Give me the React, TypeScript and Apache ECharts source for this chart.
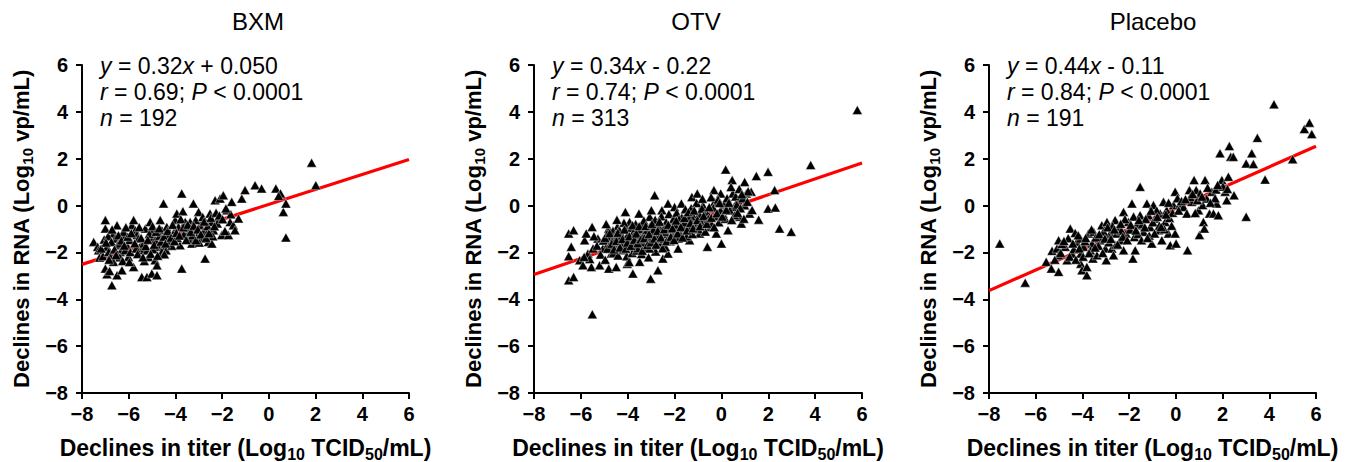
import React, { useEffect, useRef } from "react";
import * as echarts from "echarts";

const FONT = "'Liberation Sans', Arial, Helvetica, sans-serif";

const panelTitles = ["BXM", "OTV", "Placebo"];
const equationLines = [
  "{i|y} = 0.32{i|x} + 0.050",
  "{i|y} = 0.34{i|x} - 0.22",
  "{i|y} = 0.44{i|x} - 0.11",
];
const statLines = [
  "{i|r} = 0.69; {i|P} < 0.0001",
  "{i|r} = 0.74; {i|P} < 0.0001",
  "{i|r} = 0.84; {i|P} < 0.0001",
];
const countLines = ["{i|n} = 192", "{i|n} = 313", "{i|n} = 191"];

const xAxisTitle = "Declines in titer (Log{sub|10} TCID{sub|50}/mL)";
const yAxisTitle = "Declines in RNA (Log{sub|10} vp/mL)";

const axisMin = -8;
const axisMax = 6;
const axisStep = 2;

// regression line end points (x = -8 and x = 6)
const bxmFit = [[-8, -2.51], [6, 1.97]];
const otvFit = [[-8, -2.94], [6, 1.82]];
const placeboFit = [[-8, -3.63], [6, 2.53]];

const bxmPoints = [
  [-7.5, -1.55], [-7.33, -1.76], [-7.29, -1.91], [-7.25, -2.22], [-7.1, -2.16], [-7.0, -0.62], [-7.0, -0.98],
  [-7.05, -1.45], [-6.93, -1.76], [-6.86, -1.98], [-6.79, -2.19], [-7.0, -2.69], [-6.93, -2.93], [-6.82, -2.79],
  [-6.72, -3.4], [-6.65, -1.19], [-6.58, -1.41], [-6.5, -0.84], [-6.48, -1.69], [-6.42, -1.62], [-6.36, -1.98],
  [-6.65, -2.4], [-6.5, -2.97], [-6.29, -2.76], [-6.22, -1.34], [-6.22, -1.12], [-6.08, -1.69], [-6.15, -1.91],
  [-6.01, -2.19], [-5.93, -1.98], [-5.86, -0.84], [-5.79, -0.62], [-5.72, -1.05], [-5.65, -1.26], [-5.79, -2.62],
  [-5.58, -1.41], [-5.51, -1.76], [-5.44, -1.91], [-5.36, -1.62], [-5.29, -0.98], [-5.44, -3.05], [-5.22, -3.05],
  [-5.22, -1.91], [-5.15, -2.19], [-5.08, -0.7], [-5.01, -1.05], [-4.94, -1.34], [-4.87, -1.48], [-5.01, -2.9],
  [-4.79, -2.97], [-4.87, -2.33], [-4.79, -2.55], [-4.72, -1.76], [-4.65, -0.62], [-4.58, -1.05], [-4.51, 0.09],
  [-4.51, -1.76], [-4.58, -1.98], [-4.37, -0.91], [-4.3, -1.26], [-4.23, -1.55], [-4.4, -1.91], [-4.08, -1.26],
  [-4.01, -0.62], [-3.94, -0.34], [-4.01, -1.05], [-3.87, -0.91], [-3.8, -1.69], [-3.73, 0.52], [-3.68, -0.24],
  [-3.73, -2.69], [-3.58, -0.7], [-3.51, -1.05], [-3.44, -1.19], [-3.37, -0.7], [-3.3, -1.62], [-3.37, -1.41],
  [-3.23, 0.09], [-3.16, -1.05], [-3.09, -1.34], [-3.01, -0.27], [-2.94, -0.84], [-2.87, -1.41], [-2.8, -1.12],
  [-2.73, -2.26], [-2.66, -1.19], [-2.59, -1.55], [-2.52, -0.34], [-2.44, -0.7], [-2.37, -1.05], [-2.44, -1.62],
  [-2.3, 0.23], [-2.16, -0.55], [-2.09, 0.3], [-2.02, -1.26], [-1.95, 0.44], [-1.8, -0.2], [-1.73, -1.26],
  [-1.66, -0.7], [-1.59, 0.16], [-1.52, -0.84], [-1.45, -1.05], [-1.3, -0.55], [-1.16, 0.3], [-1.02, 0.66],
  [-0.59, 0.87], [-0.31, 0.73], [0.3, 0.73], [0.5, 0.52], [0.62, -0.27], [0.73, 0.09], [0.73, -1.36],
  [1.83, 1.83], [2.01, 0.87], [-6.88, -1.31], [-6.74, -1.55], [-6.38, -2.21], [-6.12, -0.93], [-5.96, -1.47],
  [-5.68, -1.83], [-5.33, -2.37], [-5.12, -1.21], [-4.96, -1.86], [-4.68, -1.29], [-4.47, -2.08], [-4.16, -1.71],
  [-3.92, -1.38], [-3.64, -1.23], [-3.41, -0.94], [-3.27, -1.27], [-3.13, -0.62], [-2.98, -1.58], [-2.83, -0.49],
  [-2.62, -0.88], [-2.4, -1.31], [-2.21, -0.76], [-1.88, -1.09], [-1.63, -0.37], [0.42, 0.41],
  [-7.18, -1.83], [-6.97, -1.58], [-6.84, -2.31], [-6.71, -1.02], [-6.61, -1.87], [-6.54, -2.12], [-6.44, -1.27],
  [-6.31, -1.49], [-6.26, -2.37], [-6.19, -1.71], [-6.04, -1.33], [-5.97, -2.41], [-5.89, -1.18], [-5.74, -1.61],
  [-5.62, -2.07], [-5.55, -0.92], [-5.47, -1.38], [-5.39, -2.21], [-5.27, -1.73], [-5.18, -1.46], [-5.06, -2.06],
  [-4.98, -0.88], [-4.91, -1.67], [-4.83, -1.12], [-4.76, -2.14], [-4.69, -0.97], [-4.62, -1.54], [-4.49, -1.33],
  [-4.42, -1.62], [-4.33, -1.08], [-4.19, -1.37], [-4.12, -0.82], [-4.04, -1.52], [-3.96, -1.17], [-3.83, -1.28],
  [-3.77, -0.58], [-3.66, -0.93], [-3.54, -1.47], [-3.47, -0.82], [-3.34, -1.12], [-3.21, -0.86], [-3.12, -1.48],
  [-3.04, -1.02], [-2.91, -1.23], [-2.77, -0.68], [-2.69, -1.38], [-2.56, -1.18], [-2.48, -0.52], [-2.33, -0.88],
  [-2.26, -0.31], [-2.12, -0.42], [-1.98, -0.58], [-1.84, -0.12],
];

const otvPoints = [
  [-6.52, -1.19], [-6.31, -1.05], [-6.41, -1.76], [-6.52, -2.16], [-6.05, -2.33], [-6.52, -3.19], [-6.31, -3.05],
  [-5.84, -1.48], [-5.77, -1.19], [-5.52, -0.91], [-5.7, -2.05], [-5.48, -1.83], [-5.91, -2.55], [-5.55, -2.62],
  [-5.27, -1.41], [-5.2, -2.55], [-5.06, -1.83], [-4.81, -0.98], [-4.7, -2.05], [-4.81, -2.69], [-4.56, -1.62],
  [-4.44, -0.91], [-4.39, -1.34], [-4.49, -2.62], [-4.27, -1.91], [-4.1, -0.27], [-4.06, -0.91], [-3.99, -1.48],
  [-4.02, -2.48], [-3.92, -0.7], [-3.78, -2.9], [-3.7, -1.76], [-3.56, -1.19], [-3.52, -0.34], [-3.49, -2.4],
  [-3.38, -0.84], [-3.21, -1.48], [-3.06, -0.48], [-3.02, -3.12], [-2.99, -0.2], [-2.85, 0.44], [-2.78, -0.91],
  [-2.71, -2.76], [-2.57, -1.62], [-2.5, -2.26], [-2.54, -0.2], [-2.28, 0.09], [-2.28, -2.05], [-2.07, -0.7],
  [-2.0, -0.06], [-1.85, -1.83], [-1.71, 0.09], [-1.64, -0.91], [-1.43, -0.34], [-1.36, -1.48], [-1.26, 0.37],
  [-1.14, -0.7], [-1.03, 0.52], [-0.93, -1.19], [-0.79, 0.01], [-0.72, -0.62], [-0.6, -1.76], [-0.5, -0.91],
  [-0.32, 0.66], [-0.29, 0.16], [-0.22, -1.19], [-0.03, 0.52], [0.0, -1.62], [0.07, -0.34], [0.18, 1.54],
  [0.28, -1.05], [0.46, 1.09], [0.49, 0.52], [0.53, -0.06], [0.71, 0.23], [0.78, -0.48], [0.85, -0.77],
  [0.99, 1.01], [0.99, 0.01], [1.06, 0.52], [1.2, -0.34], [1.27, 0.59], [1.49, 1.26], [1.59, -0.6],
  [1.99, 1.44], [1.99, -0.13], [2.27, 0.66], [2.3, -0.08], [2.48, -0.98], [2.98, -1.12], [3.81, 1.73],
  [5.8, 4.08], [-5.51, -4.64],
  [-4.88, -1.21], [-4.83, -1.62], [-4.74, -1.33], [-4.71, -1.81], [-4.63, -1.08], [-4.61, -2.02], [-4.54, -1.47],
  [-4.52, -1.24], [-4.43, -1.71], [-4.41, -2.13], [-4.36, -1.04], [-4.31, -1.52], [-4.24, -1.29], [-4.18, -1.87],
  [-4.16, -0.73], [-4.12, -1.61], [-4.04, -2.16], [-3.98, -1.22], [-3.96, -1.74], [-3.88, -0.96], [-3.84, -1.41],
  [-3.81, -2.02], [-3.74, -1.12], [-3.69, -1.57], [-3.66, -0.79], [-3.62, -1.92], [-3.54, -1.36], [-3.48, -1.66],
  [-3.46, -1.01], [-3.41, -2.07], [-3.33, -1.26], [-3.31, -0.64], [-3.27, -1.81], [-3.18, -1.06], [-3.14, -1.51],
  [-3.11, -2.21], [-3.04, -0.89], [-2.97, -1.36], [-2.94, -1.72], [-2.88, -1.14], [-2.83, -0.61], [-2.81, -1.96],
  [-2.74, -1.31], [-2.68, -0.86], [-2.66, -1.56], [-2.59, -1.04], [-2.56, -0.46], [-2.48, -1.42], [-2.46, -0.94],
  [-2.39, -1.77], [-2.36, -0.71], [-2.31, -1.21], [-2.24, -0.36], [-2.19, -1.52], [-2.14, -0.91], [-2.11, -1.26],
  [-2.04, -0.56], [-1.96, -1.06], [-1.91, -0.31], [-1.84, -1.41], [-1.79, -0.74], [-1.76, -1.16], [-1.69, -0.51],
  [-1.61, -0.96], [-1.54, -0.16], [-1.49, -1.31], [-1.46, -0.66], [-1.34, -0.94], [-1.29, -0.11], [-1.24, -1.21],
  [-1.19, -0.46], [-1.09, -0.86], [-1.06, 0.11], [-0.98, -1.01], [-0.94, -0.36], [-0.86, -0.71], [-0.81, 0.29],
  [-0.69, -1.11], [-0.64, -0.26], [-0.56, -0.56], [-0.44, 0.36], [-0.41, -0.81], [-0.34, -0.11], [-0.26, -0.46],
  [-0.14, 0.26], [-0.11, -0.71], [-0.04, -0.21], [0.11, 0.06], [0.16, -0.56], [0.24, 0.31], [0.36, -0.21],
  [0.41, 0.79], [0.56, -0.41], [0.61, 0.39], [0.66, 0.04], [0.76, 0.71], [0.81, -0.11], [0.91, 0.31],
  [0.96, -0.56], [1.11, 0.16], [1.14, 0.61], [1.31, -0.19], [-5.31, -1.71], [-5.16, -2.09], [-5.04, -1.49],
  [-4.96, -2.31], [-5.62, -2.28], [-5.44, -1.31], [-5.86, -2.19], [-4.92, -0.79], [-4.46, -0.61], [-3.94, -2.41],
  [-4.67, -1.52], [-4.28, -1.68], [-3.76, -1.32], [-3.58, -1.82], [-3.36, -1.58], [-3.07, -1.83], [-2.91, -1.02],
  [-2.62, -1.27], [-2.42, -1.12], [-2.21, -1.01], [-1.99, -0.81], [-1.81, -0.58], [-1.57, -0.72], [-1.38, -0.54],
  [-4.97, -1.38], [-4.86, -1.84], [-4.77, -1.18], [-4.68, -1.63], [-4.58, -1.87], [-4.48, -1.51], [-4.42, -1.16],
  [-4.33, -1.79], [-4.22, -1.43], [-4.14, -1.02], [-4.08, -1.84], [-4.01, -1.58], [-3.93, -1.31], [-3.86, -1.72],
  [-3.79, -0.84], [-3.72, -1.46], [-3.63, -1.19], [-3.57, -1.61], [-3.51, -0.88], [-3.44, -1.44], [-3.38, -1.93],
  [-3.29, -1.39], [-3.23, -0.87], [-3.16, -1.68], [-3.09, -1.22], [-3.01, -1.57], [-2.96, -0.78], [-2.86, -1.41],
  [-2.79, -1.67], [-2.72, -1.08], [-2.64, -0.69], [-2.58, -1.36], [-2.51, -1.82], [-2.44, -1.01], [-2.34, -1.52],
  [-2.27, -0.82], [-2.16, -1.33], [-2.09, -0.97], [-2.02, -1.47], [-1.93, -0.64], [-1.87, -1.19], [-1.73, -0.91],
  [-1.66, -1.36], [-1.58, -0.53], [-1.47, -1.06], [-1.41, -0.28], [-1.32, -0.74], [-1.21, -0.97], [-1.16, -0.21],
  [-1.02, -0.62], [-0.91, -0.88], [-0.83, -0.13], [-0.76, -0.44], [-0.62, -0.78], [-0.52, -0.07], [-0.43, -0.52],
  [-0.31, -0.92], [-0.19, -0.33], [-0.08, 0.11], [0.04, -0.47], [0.21, -0.18], [0.32, 0.12], [0.44, -0.62],
  [0.69, -0.31], [0.87, 0.48],
];

const placeboPoints = [
  [-7.54, -1.62], [-6.45, -3.29], [-5.55, -2.4], [-5.33, -2.69], [-5.3, -1.93], [-5.09, -1.83], [-5.02, -1.48],
  [-5.02, -2.83], [-5.02, -2.12], [-4.74, -1.76], [-4.66, -2.33], [-4.52, -0.98], [-4.45, -2.05], [-4.31, -1.17],
  [-4.24, -1.55], [-4.09, -1.41], [-4.07, -2.05], [-4.07, -2.48], [-4.02, -2.76], [-3.95, -1.76], [-3.81, -2.62],
  [-3.81, -2.97], [-3.74, -1.19], [-3.59, -1.62], [-3.52, -1.12], [-3.55, -2.26], [-3.38, -2.12], [-3.24, -1.48],
  [-3.17, -0.84], [-3.02, -1.83], [-2.98, -2.33], [-2.95, -0.7], [-2.81, -1.19], [-2.74, -1.83], [-2.67, -2.12],
  [-2.6, -0.62], [-2.53, -1.19], [-2.45, -0.91], [-2.38, -1.48], [-2.24, -0.27], [-2.24, -1.91], [-2.13, -1.19],
  [-2.03, -0.7], [-1.88, 0.09], [-1.84, -2.26], [-1.78, -1.34], [-1.74, -1.91], [-1.67, -0.84], [-1.53, 0.8],
  [-1.53, -0.41], [-1.38, -1.12], [-1.24, 0.09], [-1.17, -0.41], [-1.1, -0.91], [-1.03, -1.62], [-0.96, 0.02],
  [-0.89, -0.55], [-0.74, -1.05], [-0.67, -0.34], [-0.6, -1.48], [-0.53, 0.16], [-0.46, -0.7], [-0.39, -0.2],
  [-0.32, -1.19], [-0.24, -1.69], [-0.1, 0.02], [-0.03, 0.59], [-0.03, -1.19], [0.01, -1.62], [0.18, 0.09],
  [0.33, -0.06], [0.47, -0.34], [0.5, -1.91], [0.58, 0.66], [0.68, 0.16], [0.78, 1.09], [0.87, 0.66],
  [0.97, -0.2], [1.01, -1.26], [1.04, 0.52], [1.15, 0.02], [1.18, -0.7], [1.22, -0.98], [1.25, 1.09],
  [1.32, 0.3], [1.44, -0.34], [1.54, 0.59], [1.61, -0.34], [1.72, 0.69], [1.75, 0.09], [1.82, -0.41],
  [1.89, 2.23], [1.97, 1.09], [2.11, 0.59], [2.18, 0.23], [2.25, 1.23], [2.29, 2.54], [2.35, 2.08],
  [2.46, 2.08], [2.49, 0.44], [3.01, 1.8], [3.01, -0.48], [3.25, 2.23], [3.32, 1.77], [3.49, 2.89],
  [3.82, 1.11], [4.2, 4.32], [5.0, 1.98], [5.5, 3.27], [5.72, 3.54], [5.82, 3.05],
  [-4.88, -1.64], [-4.61, -1.39], [-4.37, -1.86], [-4.18, -1.27], [-3.89, -1.52], [-3.66, -1.91], [-3.43, -1.36],
  [-3.31, -1.72], [-3.09, -1.11], [-2.87, -1.57], [-2.71, -0.88], [-2.57, -1.68], [-2.33, -1.07], [-2.18, -0.58],
  [-1.96, -1.02], [-1.81, -0.47], [-1.62, -1.21], [-1.44, -0.79], [-1.29, -0.57], [-1.14, -1.28], [-0.98, -0.71],
  [-0.82, -0.21], [-0.71, -0.86], [-0.49, -1.01], [-0.27, -0.53], [-0.14, -0.31], [0.07, 0.31], [0.24, 0.19],
  [0.62, 0.37], [0.92, 0.23], [1.36, 0.76], [1.68, 0.31], [2.02, 0.81],
  [-5.18, -2.31], [-4.93, -2.02], [-4.79, -1.51], [-4.55, -2.18], [-4.41, -1.62], [-4.28, -2.31], [-4.13, -1.83],
  [-3.97, -2.18], [-3.86, -1.38], [-3.71, -2.03], [-3.61, -1.02], [-3.46, -1.79], [-3.28, -1.22], [-3.13, -2.02],
  [-3.04, -1.41], [-2.92, -0.93], [-2.78, -1.42], [-2.63, -1.02], [-2.49, -1.66], [-2.36, -0.78], [-2.27, -1.33],
  [-2.08, -1.48], [-1.93, -0.82], [-1.71, -1.06], [-1.58, -0.62], [-1.47, -1.48], [-1.33, -0.93], [-1.21, -1.38],
  [-1.06, -0.22], [-0.91, -1.19], [-0.79, -0.48], [-0.63, -0.91], [-0.42, -0.38], [-0.31, 0.12], [-0.18, -0.86],
  [0.12, -0.21], [0.41, 0.27], [0.72, 0.49], [0.83, -0.32], [1.12, 0.38], [1.48, 0.12], [1.79, 0.88], [2.21, 0.71],
];

const allPoints = [bxmPoints, otvPoints, placeboPoints];
const allFits = [bxmFit, otvFit, placeboFit];

// layout (pixels)
const gridLefts = [82, 534, 989];
const gridWidths = [327, 328, 327];
const gridTop = 65;
const gridHeight = 328;
const titleCenters = [258, 696, 1153];

const fmtTick = (v: number) => (v < 0 ? "\u2212" + Math.abs(v) : String(v));

const makeNameStyle = (size: number, subSize: number, subPad: number) => ({
  color: "#000",
  fontFamily: FONT,
  fontWeight: "bold" as const,
  fontSize: size,
  rich: {
    sub: {
      color: "#000",
      fontFamily: FONT,
      fontWeight: "bold" as const,
      fontSize: subSize,
      padding: [subPad, 0, 0, 0],
    },
  },
});

export default function App() {
  const ref = useRef<HTMLDivElement>(null);

  useEffect(() => {
    if (!ref.current) return;
    const chart = echarts.init(ref.current, null, { renderer: "svg" });

    const axisLineStyle = { color: "#000", width: 2 };
    const tickLabel = {
      color: "#000",
      fontFamily: FONT,
      fontWeight: "bold" as const,
      fontSize: 20,
      formatter: fmtTick,
      showMinLabel: true,
      showMaxLabel: true,
    };

    const grids = gridLefts.map((left, i) => ({
      left,
      top: gridTop,
      width: gridWidths[i],
      height: gridHeight,
      outerBoundsMode: "none",
      containLabel: false,
    }));

    const xAxes = gridLefts.map((_, i) => ({
      type: "value" as const,
      gridIndex: i,
      min: axisMin,
      max: axisMax,
      interval: axisStep,
      name: xAxisTitle,
      nameLocation: "middle" as const,
      nameGap: 40,
      nameTextStyle: makeNameStyle(23, 16, 13),
      axisLine: { show: true, onZero: false, lineStyle: axisLineStyle },
      axisTick: { show: true, inside: false, length: 6, lineStyle: axisLineStyle },
      axisLabel: { ...tickLabel, margin: 11 },
      splitLine: { show: false },
    }));

    const yAxes = gridLefts.map((_, i) => ({
      type: "value" as const,
      gridIndex: i,
      min: axisMin,
      max: axisMax,
      interval: axisStep,
      name: yAxisTitle,
      nameLocation: "middle" as const,
      nameRotate: 90,
      nameGap: 47,
      nameTextStyle: makeNameStyle(22, 15, 13),
      axisLine: { show: true, onZero: false, lineStyle: axisLineStyle },
      axisTick: { show: true, inside: false, length: 6, lineStyle: axisLineStyle },
      axisLabel: { ...tickLabel, margin: 14 },
      splitLine: { show: false },
    }));

    const series: any[] = [];
    allPoints.forEach((pts, i) => {
      series.push({
        type: "line",
        xAxisIndex: i,
        yAxisIndex: i,
        data: allFits[i],
        showSymbol: false,
        symbol: "none",
        lineStyle: { color: "#ff0000", width: 3.2 },
        z: 2,
        silent: true,
      });
      series.push({
        type: "scatter",
        xAxisIndex: i,
        yAxisIndex: i,
        data: pts,
        symbol: "triangle",
        symbolSize: [10, 9],
        itemStyle: { color: "#000", borderColor: "#fff", borderWidth: 0.4, opacity: 1 },
        z: 3,
        silent: true,
      });
    });

    const textBase = { fontFamily: FONT, fill: "#000" };
    const elements: any[] = [];
    panelTitles.forEach((t, i) => {
      elements.push({
        type: "text",
        x: titleCenters[i],
        y: 21,
        style: { ...textBase, text: t, fontSize: 24, textAlign: "center", textVerticalAlign: "middle" },
      });
      const lines = [equationLines[i], statLines[i], countLines[i]];
      const ys = [66, 92, 118];
      lines.forEach((ln, k) => {
        elements.push({
          type: "text",
          x: gridLefts[i] + 18,
          y: ys[k],
          style: {
            ...textBase,
            text: ln,
            fontSize: 23,
            textAlign: "left",
            textVerticalAlign: "middle",
            rich: { i: { fontStyle: "italic", fontSize: 23, fontFamily: FONT, fill: "#000" } },
          },
        });
      });
    });

    chart.setOption({
      animation: false,
      backgroundColor: "#fff",
      grid: grids,
      xAxis: xAxes,
      yAxis: yAxes,
      series,
      graphic: { elements },
    });

    return () => chart.dispose();
  }, []);

  return (
    <div
      ref={ref}
      style={{ position: "fixed", left: 0, top: 0, width: 1354, height: 462, background: "#fff" }}
    />
  );
}
